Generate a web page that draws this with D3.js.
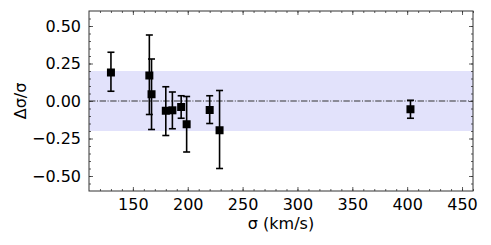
<!DOCTYPE html>
<html>
<head>
<meta charset="utf-8">
<script src="https://cdn.jsdelivr.net/npm/d3@7"></script>
<style>
  body { margin: 0; background: white; }
  text { font-family: "DejaVu Sans", sans-serif; }
</style>
</head>
<body>
<div id="chart"></div>
<script>
let w = 491;
let h = 245;
let margin = {left: 89, right: 18, top: 11, bottom: 54};

// data
let sigma   = [130, 165, 167, 180, 186, 194, 199, 220, 229, 403];
let ratio   = [0.19, 0.17, 0.045, -0.065, -0.062, -0.04, -0.155, -0.06, -0.195, -0.055];
let errHigh = [0.325, 0.44, 0.28, 0.095, 0.06, 0.035, 0.03, 0.035, 0.07, 0.005];
let errLow  = [0.065, -0.09, -0.19, -0.23, -0.185, -0.115, -0.34, -0.15, -0.45, -0.115];
let xTicks = [150, 200, 250, 300, 350, 400, 450];
let yTicks = [-0.5, -0.25, 0, 0.25, 0.5];
let band = [-0.2, 0.2];

let points = sigma.map((s, i) => ({x: s, y: ratio[i], hi: errHigh[i], lo: errLow[i]}));

let viz = d3.select("#chart")
  .append("svg")
  .attr("width", w)
  .attr("height", h)
;

let xScale = d3.scaleLinear().domain([110, 460]).range([margin.left, w - margin.right]);
let yScale = d3.scaleLinear().domain([-0.6, 0.6]).range([h - margin.bottom, margin.top]);

// shaded band
viz.append("rect")
  .attr("x", xScale(110))
  .attr("width", xScale(460) - xScale(110))
  .attr("y", yScale(band[1]))
  .attr("height", yScale(band[0]) - yScale(band[1]))
  .attr("fill", "#e2e2fb")
;

// zero line
viz.append("line")
  .attr("x1", xScale(110)).attr("x2", xScale(460))
  .attr("y1", yScale(0)).attr("y2", yScale(0))
  .attr("stroke", "#333")
  .attr("stroke-width", 1)
  .attr("stroke-dasharray", "6.4,1.6,1,1.6")
;

// axes, ticks pointing inward
let xMinor = d3.range(120, 461, 10);
let yMinor = d3.range(-0.55, 0.6, 0.05);

function addAxis(axis, transform, cls) {
  return viz.append("g").attr("class", cls).attr("transform", transform).call(axis);
}

let bottom = addAxis(d3.axisBottom(xScale).tickValues(xTicks).tickSizeInner(-4).tickSizeOuter(0).tickPadding(8),
  "translate(0," + (h - margin.bottom) + ")", "xaxis");
addAxis(d3.axisBottom(xScale).tickValues(xMinor).tickSizeInner(-2).tickSizeOuter(0).tickFormat(""),
  "translate(0," + (h - margin.bottom) + ")", "xminor");
addAxis(d3.axisTop(xScale).tickValues(xTicks).tickSizeInner(-4).tickSizeOuter(0).tickFormat(""),
  "translate(0," + margin.top + ")", "xtop");
addAxis(d3.axisTop(xScale).tickValues(xMinor).tickSizeInner(-2).tickSizeOuter(0).tickFormat(""),
  "translate(0," + margin.top + ")", "xtopminor");

let left = addAxis(d3.axisLeft(yScale).tickValues(yTicks).tickSizeInner(-4).tickSizeOuter(0).tickPadding(8)
    .tickFormat(d => d3.format(".2f")(d).replace("-", "\u2212")),
  "translate(" + margin.left + ",0)", "yaxis");
addAxis(d3.axisLeft(yScale).tickValues(yMinor).tickSizeInner(-2).tickSizeOuter(0).tickFormat(""),
  "translate(" + margin.left + ",0)", "yminor");
addAxis(d3.axisRight(yScale).tickValues(yTicks).tickSizeInner(-4).tickSizeOuter(0).tickFormat(""),
  "translate(" + (w - margin.right) + ",0)", "yright");
addAxis(d3.axisRight(yScale).tickValues(yMinor).tickSizeInner(-2).tickSizeOuter(0).tickFormat(""),
  "translate(" + (w - margin.right) + ",0)", "yrightminor");

viz.selectAll(".domain").remove();
viz.selectAll(".tick line").attr("stroke", "#333").attr("stroke-width", 0.8);
viz.selectAll(".tick text")
  .attr("fill", "black")
  .style("font-size", "16px")
;

// frame
viz.append("rect")
  .attr("x", margin.left)
  .attr("y", margin.top)
  .attr("width", w - margin.left - margin.right)
  .attr("height", h - margin.top - margin.bottom)
  .attr("fill", "none")
  .attr("stroke", "#333")
  .attr("stroke-width", 1)
;

// error bars
let bars = viz.selectAll(".err").data(points).enter().append("g").attr("class", "err");
bars.append("line")
  .attr("x1", d => xScale(d.x)).attr("x2", d => xScale(d.x))
  .attr("y1", d => yScale(d.hi)).attr("y2", d => yScale(d.lo))
  .attr("stroke", "black").attr("stroke-width", 1.6);
bars.append("line")
  .attr("x1", d => xScale(d.x) - 3.5).attr("x2", d => xScale(d.x) + 3.5)
  .attr("y1", d => yScale(d.hi)).attr("y2", d => yScale(d.hi))
  .attr("stroke", "black").attr("stroke-width", 1.6);
bars.append("line")
  .attr("x1", d => xScale(d.x) - 3.5).attr("x2", d => xScale(d.x) + 3.5)
  .attr("y1", d => yScale(d.lo)).attr("y2", d => yScale(d.lo))
  .attr("stroke", "black").attr("stroke-width", 1.6);

// square markers
viz.selectAll(".datapoint").data(points).enter()
  .append("rect")
  .attr("class", "datapoint")
  .attr("x", d => xScale(d.x) - 4)
  .attr("y", d => yScale(d.y) - 4)
  .attr("width", 8)
  .attr("height", 8)
  .attr("fill", "black")
;

// axis labels
viz.append("text")
  .attr("x", (margin.left + w - margin.right) / 2)
  .attr("y", 229)
  .attr("text-anchor", "middle")
  .style("font-size", "16px")
  .text("σ (km/s)")
;
viz.append("text")
  .attr("transform", "translate(26," + (margin.top + (h - margin.top - margin.bottom) / 2) + ") rotate(-90)")
  .attr("text-anchor", "middle")
  .style("font-size", "16px")
  .text("Δσ/σ")
;
</script>
</body>
</html>
